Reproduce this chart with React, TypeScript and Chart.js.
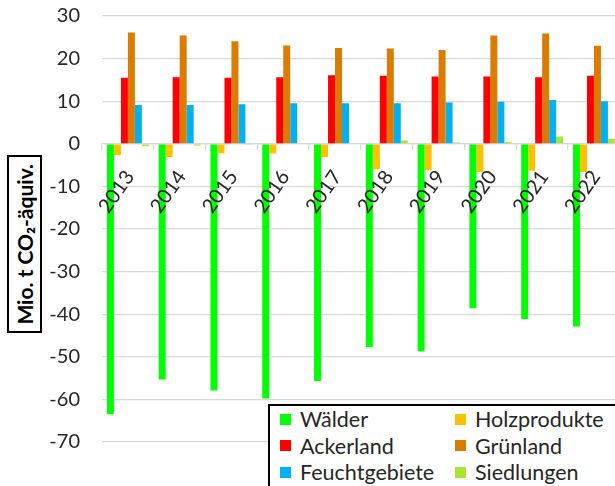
import React, { useEffect, useRef } from "react";
import { Chart, registerables } from "chart.js";

Chart.register(...registerables);

const years = ["2013", "2014", "2015", "2016", "2017", "2018", "2019", "2020", "2021", "2022"];
const waelder = [-63.5, -55.3, -57.9, -59.8, -55.7, -47.7, -48.7, -38.6, -41.1, -42.9];
const holzprodukte = [-2.6, -3.1, -2.2, -2.3, -3.1, -6.0, -6.2, -6.6, -6.3, -6.6];
const ackerland = [15.5, 15.6, 15.5, 15.6, 16.1, 16.0, 15.8, 15.8, 15.6, 16.0];
const gruenland = [26.1, 25.4, 24.1, 23.1, 22.5, 22.4, 22.0, 25.4, 25.9, 23.0];
const feuchtgebiete = [9.1, 9.1, 9.3, 9.5, 9.5, 9.5, 9.7, 9.9, 10.3, 10.0];
const siedlungen = [-0.6, -0.4, -0.2, 0.0, 0.0, 0.8, 0.3, 0.4, 1.7, 1.2];

const seriesNames = ["Wälder", "Holzprodukte", "Ackerland", "Grünland", "Feuchtgebiete", "Siedlungen"];
const seriesColors = ["#00FF00", "#FFC000", "#FF0000", "#D97C00", "#00B0F0", "#A8E632"];
const seriesValues = [waelder, holzprodukte, ackerland, gruenland, feuchtgebiete, siedlungen];

const yMin = -70;
const yMax = 30;
const yStep = 10;
const yTitle = "Mio. t CO₂-äquiv.";

const FONT = "Lato, 'Noto Sans', sans-serif";
const TEXT = "#262626";

export default function App() {
  const ref = useRef<HTMLCanvasElement | null>(null);

  useEffect(() => {
    if (!ref.current) return;
    const chart = new Chart(ref.current, {
      type: "bar",
      data: {
        labels: years,
        datasets: seriesNames.map((name, i) => ({
          label: name,
          data: seriesValues[i],
          backgroundColor: seriesColors[i],
          borderWidth: 0,
          categoryPercentage: 0.81,
          barPercentage: 1,
        })),
      },
      options: {
        animation: false,
        responsive: false,
        maintainAspectRatio: false,
        layout: { padding: { top: 16, right: 8, bottom: 44, left: 0 } },
        plugins: { legend: { display: false }, tooltip: { enabled: false } },
        scales: {
          y: {
            min: yMin,
            max: yMax,
            ticks: {
              stepSize: yStep,
              padding: 0,
              color: TEXT,
              font: { family: FONT, size: 20 },
            },
            grid: {
              color: "#d9d9d9",
              lineWidth: 1.3,
              drawTicks: true,
              tickLength: 22,
              tickColor: "rgba(0,0,0,0)",
            },
            border: { display: false },
            afterFit: (scale: any) => {
              scale.width = 102;
            },
          },
          x: {
            position: { y: 0 } as any,
            offset: true,
            ticks: {
              autoSkip: false,
              minRotation: 55,
              maxRotation: 55,
              padding: 16,
              labelOffset: 2,
              z: 2,
              color: TEXT,
              font: { family: FONT, size: 20 },
            } as any,
            grid: {
              offset: true,
              drawOnChartArea: false,
              drawTicks: true,
              tickLength: 6,
              color: "#d9d9d9",
              lineWidth: 1.3,
            },
            border: { display: true, color: "#d9d9d9", width: 1.3 },
            afterFit: (scale: any) => {
              scale.height = 0;
            },
          },
        },
      },
    });
    return () => chart.destroy();
  }, []);

  return (
    <div
      style={{
        position: "fixed",
        left: 0,
        top: 0,
        width: 615,
        height: 486,
        overflow: "hidden",
        background: "#fff",
      }}
    >
      <canvas ref={ref} width={630} height={486} style={{ position: "absolute", left: 0, top: 0 }} />
      <div
        style={{
          position: "absolute",
          left: 7,
          top: 155,
          width: 35,
          height: 178,
          boxSizing: "border-box",
          border: "2px solid #000",
          background: "#fff",
          display: "flex",
          alignItems: "center",
          justifyContent: "center",
        }}
      >
        <span
          style={{
            writingMode: "vertical-rl",
            transform: "rotate(180deg)",
            fontFamily: FONT,
            fontWeight: 700,
            fontSize: 21,
            color: "#000",
            whiteSpace: "nowrap",
          }}
        >
          {yTitle}
        </span>
      </div>
      <div
        style={{
          position: "absolute",
          left: 268,
          top: 404,
          width: 400,
          height: 120,
          boxSizing: "border-box",
          border: "2px solid #000",
          background: "#fff",
        }}
      >
        {seriesNames.map((name, i) => {
          const col = i % 2;
          const row = Math.floor(i / 2);
          return (
            <div
              key={name}
              style={{
                position: "absolute",
                left: col === 0 ? 10 : 185,
                top: row * 26.5,
                height: 26,
                display: "flex",
                alignItems: "center",
                fontFamily: FONT,
                fontSize: 21.5,
                color: TEXT,
                whiteSpace: "nowrap",
              }}
            >
              <span
                style={{
                  display: "inline-block",
                  width: 11,
                  height: 11,
                  background: seriesColors[i],
                  marginRight: 9,
                }}
              />
              {name}
            </div>
          );
        })}
      </div>
    </div>
  );
}
